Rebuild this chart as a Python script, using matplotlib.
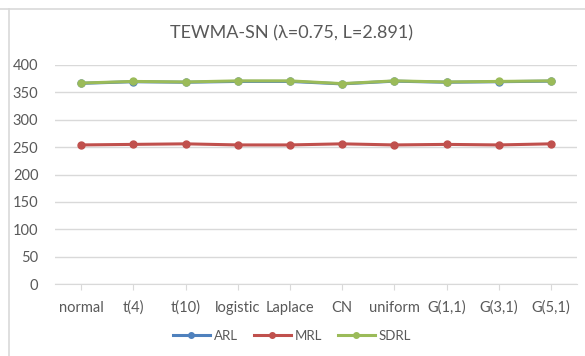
import matplotlib
matplotlib.use("Agg")
import matplotlib.pyplot as plt
from matplotlib.lines import Line2D

categories = ["normal", "t(4)", "t(10)", "logistic", "Laplace", "CN", "uniform", "G(1,1)", "G(3,1)", "G(5,1)"]
arl = [366.5, 369.5, 368.5, 370.0, 370.0, 365.5, 370.5, 368.5, 369.5, 370.5]
mrl = [254, 255, 256, 254, 254, 256, 254, 255, 254, 256]
sdrl = [367, 370, 369, 371, 371, 366, 371, 369, 370, 371]
yticks = [0, 50, 100, 150, 200, 250, 300, 350, 400]

plt.rcParams['font.family'] = ['Lato', 'DejaVu Sans']

W, H = 585, 356
fig = plt.figure(figsize=(W / 100, H / 100), dpi=100)
# plot area: x 55..577, y 65..284 (pixels)
ax = fig.add_axes([55 / W, 1 - 284 / H, (577 - 55) / W, (284 - 65) / H])

x = list(range(len(categories)))
colors = {"ARL": "#4F81BD", "MRL": "#C0504D", "SDRL": "#9BBB59"}
for name, vals in [("ARL", arl), ("MRL", mrl), ("SDRL", sdrl)]:
    ax.plot(x, vals, color=colors[name], lw=2.2, marker="o", ms=5, label=name,
            solid_joinstyle="round")

ax.set_xlim(-0.5, len(categories) - 0.5)
ax.set_ylim(0, 400)
ax.set_yticks(yticks)
ax.set_xticks(x)
ax.set_xticklabels(categories)
ax.grid(axis="y", color="#D9D9D9", lw=1)
ax.set_axisbelow(True)
for s in ["top", "right", "left"]:
    ax.spines[s].set_visible(False)
ax.spines["bottom"].set_color("#D9D9D9")
ax.tick_params(axis="y", length=0, pad=12, labelsize=10.5, labelcolor="#595959")
ax.tick_params(axis="x", length=4, color="#D9D9D9", pad=8, labelsize=10.5, labelcolor="#595959", direction="out")

fig.text(292 / W, 1 - 33 / H, "TEWMA-SN (\u03bb=0.75, L=2.891)", ha="center", va="center",
         fontsize=13, color="#595959")

handles = [Line2D([0], [0], color=colors[n], lw=2.2, marker="o", ms=4) for n in ["ARL", "MRL", "SDRL"]]
fig.legend(handles, ["ARL", "MRL", "SDRL"], loc="center", bbox_to_anchor=(292 / W, 1 - 336 / H),
           ncol=3, frameon=False, fontsize=9.5, handlelength=2.8, columnspacing=1.2,
           handletextpad=0.3, labelcolor="#595959")

# chart border lines (top and left)
fig.add_artist(Line2D([0, 1], [1 - 8.5 / H, 1 - 8.5 / H], color="#D9D9D9", lw=1.2, transform=fig.transFigure))
fig.add_artist(Line2D([8.5 / W, 8.5 / W], [0, 1 - 8.5 / H], color="#D9D9D9", lw=1.2, transform=fig.transFigure))

fig.savefig("out.png", dpi=100, facecolor="white")
